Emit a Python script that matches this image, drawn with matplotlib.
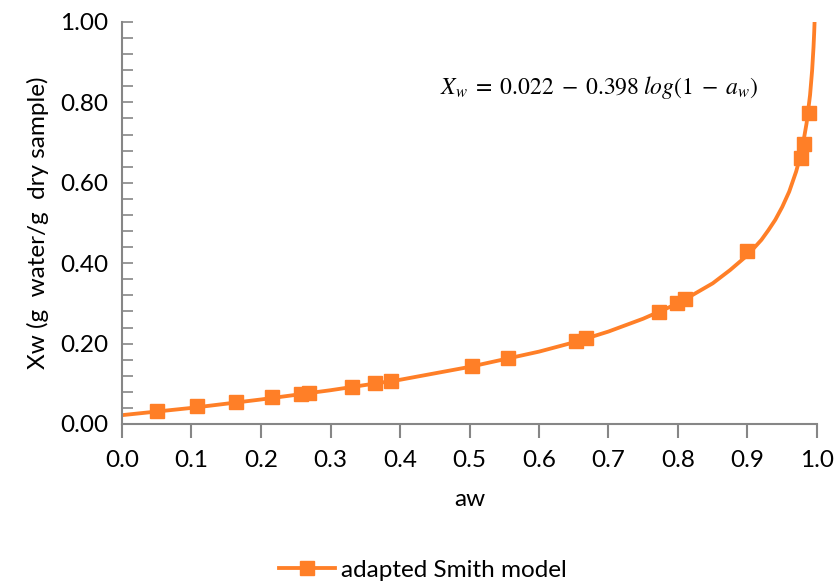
import matplotlib.pyplot as plt
import numpy as np
from matplotlib.ticker import MultipleLocator, FormatStrFormatter

plt.rcParams['font.family'] = ['Lato', 'DejaVu Sans']
plt.rcParams['mathtext.fontset'] = 'stix'

# measured points (markers)
aw_pts = [0.051, 0.108, 0.164, 0.216, 0.257, 0.269, 0.331, 0.364, 0.387,
          0.504, 0.556, 0.653, 0.667, 0.772, 0.799, 0.810,
          0.899, 0.977, 0.981, 0.988]
xw_pts = [0.033, 0.045, 0.055, 0.066, 0.075, 0.078, 0.093, 0.103, 0.108,
          0.144, 0.163, 0.207, 0.213, 0.279, 0.300, 0.310,
          0.431, 0.662, 0.697, 0.774]

# model curve
aw_line = [0.0, 0.05, 0.1, 0.2, 0.3, 0.4, 0.5, 0.6, 0.65, 0.7, 0.75, 0.8,
           0.825, 0.85, 0.875, 0.9, 0.92, 0.93, 0.94, 0.95, 0.96, 0.97,
           0.975, 0.98, 0.985, 0.99, 0.993, 0.995, 0.996, 0.9965]
xw_line = [0.022, 0.031, 0.040, 0.061, 0.084, 0.110, 0.142, 0.180, 0.203,
           0.230, 0.262, 0.300, 0.325, 0.350, 0.383, 0.420, 0.458, 0.482,
           0.508, 0.540, 0.578, 0.628, 0.660, 0.698, 0.748, 0.818, 0.880,
           0.938, 0.976, 1.0]

orange = '#FF7F27'
grey = '#868686'

fig = plt.figure(figsize=(8.37, 5.86), dpi=100)
ax = fig.add_axes([122/837, 1 - 424/586, 695/837, 402/586])

ax.plot(aw_line, xw_line, color=orange, lw=2.75, zorder=2,
        solid_joinstyle='round')
ax.plot(aw_pts, xw_pts, 's', color=orange, ms=10, zorder=3)
# legend proxy
ax.plot([], [], '-s', color=orange, lw=2.75, ms=10, label='adapted Smith model')

ax.set_xlim(0, 1)
ax.set_ylim(0, 1)
ax.xaxis.set_major_locator(MultipleLocator(0.1))
ax.xaxis.set_major_formatter(FormatStrFormatter('%.1f'))
ax.yaxis.set_major_locator(MultipleLocator(0.2))
ax.yaxis.set_minor_locator(MultipleLocator(0.04))
ax.yaxis.set_major_formatter(FormatStrFormatter('%.2f'))

for s in ['top', 'right']:
    ax.spines[s].set_visible(False)
for s in ['left', 'bottom']:
    ax.spines[s].set_color(grey)
    ax.spines[s].set_linewidth(1.5)

fs = 17.5
ax.tick_params(axis='x', direction='out', length=10, width=1.5, color=grey,
               labelsize=fs, pad=9)
ax.tick_params(axis='y', which='both', direction='in', length=8, width=1.2,
               color=grey, labelsize=fs, pad=10)

ax.set_xlabel('aw', fontsize=fs, labelpad=13)
ax.set_ylabel('Xw (g  water/g  dry sample)', fontsize=fs, labelpad=8)

ax.text(0.458, 0.82,
        r'$X_w\;=\;0.022\;-\;0.398\;log(1\;-\;a_w)$',
        fontsize=17, transform=ax.transAxes)

fig.legend(loc='center', bbox_to_anchor=(0.505, 0.027), frameon=False,
           fontsize=fs, handlelength=2.3, handletextpad=0.25)

fig.savefig('out.png', dpi=100)
